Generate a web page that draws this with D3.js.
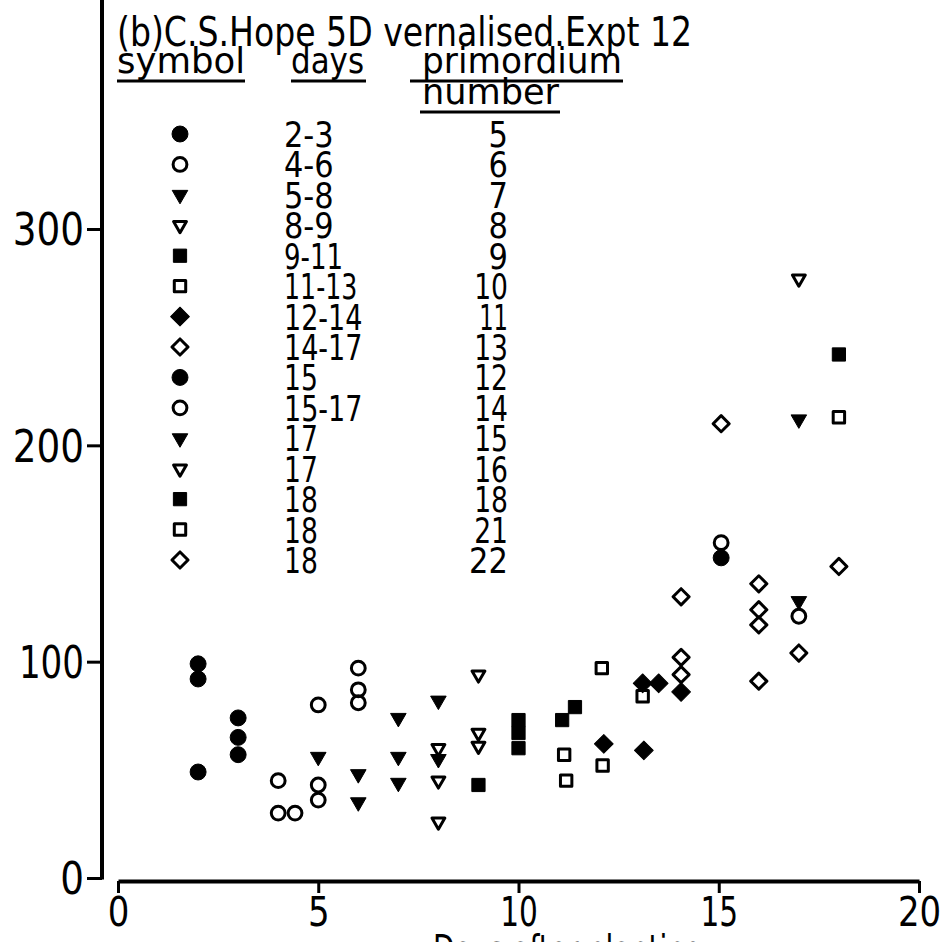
<!DOCTYPE html>
<html>
<head>
<meta charset="utf-8">
<script src="https://cdn.jsdelivr.net/npm/d3@7"></script>
<style>
  body { margin: 0; background: #fff; }
  svg { display: block; }
  text { font-family: "DejaVu Sans Condensed", "Liberation Sans Narrow", sans-serif; fill: #000; }
</style>
</head>
<body>
<svg width="945" height="942"></svg>
<script>
// Legend table: symbol, days, primordium number
const primordium = [5, 6, 7, 8, 9, 10, 11, 13, 12, 14, 15, 16, 18, 21, 22];
const dayRanges = ["2-3", "4-6", "5-8", "8-9", "9-11", "11-13", "12-14", "14-17", "15", "15-17", "17", "17", "18", "18", "18"];
const symbolKeys = ["circleF", "circleO", "triF", "triO", "squareF", "squareO", "diamondF", "diamondO",
                    "circleF", "circleO", "triF", "triO", "squareF", "squareO", "diamondO"];

// Points per primordium number: [days after planting, value]
const p5  = [[2, 99], [2, 92], [2, 49], [3, 74], [3, 65], [3, 57]];
const p6  = [[4, 45], [4, 30], [4.42, 30], [5, 80], [5, 43], [5, 36], [6, 97], [6, 87], [6, 81]];
const p7  = [[5, 56], [6, 48], [6, 35], [7, 74], [7, 56], [7, 44], [8, 82], [8, 55]];
const p8  = [[8, 60], [8, 45], [8, 26], [9, 94], [9, 67], [9, 61]];
const p9  = [[9, 43], [10, 73], [10, 67], [10, 60], [11.09, 73], [11.41, 79]];
const p10 = [[11.14, 57], [11.19, 45], [12.08, 97], [12.1, 52], [13.1, 84]];
const p11 = [[12.13, 62], [13.1, 90], [13.5, 90], [13.13, 59], [14.06, 86]];
const p13 = [[14.06, 130], [14.06, 102], [14.06, 94], [15.06, 210], [16, 136], [16, 124], [16, 117], [16, 91], [17, 104]];
const p12 = [[15.06, 148]];
const p14 = [[15.06, 155], [17, 121]];
const p15 = [[17, 212], [17, 128]];
const p16 = [[17, 277]];
const p18 = [[18, 242]];
const p21 = [[18, 213]];
const p22 = [[18, 144]];

const seriesPoints = [p5, p6, p7, p8, p9, p10, p11, p13, p12, p14, p15, p16, p18, p21, p22];

const xTicks = [0, 5, 10, 15, 20];
const yTicks = [0, 100, 200, 300];

const svg = d3.select("svg");

// scales
const x = d3.scaleLinear().domain([0, 20]).range([118, 919]);
const y = d3.scaleLinear().domain([0, 300]).range([878, 229]);

// the lettering in the figure has a narrower "1"; squeeze numerals a little
function numWidth(str, fs) {
  let w = 0;
  for (const c of String(str)) w += c === "1" ? 0.4 * fs : c === "-" ? 0.3 * fs : 0.54 * fs;
  return w;
}

// symbol definitions
const shapes = {
  circleF:  { type: d3.symbolCircle, size: 200, filled: true,  rot: 0 },
  circleO:  { type: d3.symbolCircle, size: 150, filled: false, rot: 0 },
  triF:     { type: d3.symbolTriangle, size: 105, filled: true,  rot: 180 },
  triO:     { type: d3.symbolTriangle, size: 72,  filled: false, rot: 180 },
  squareF:  { type: d3.symbolSquare, size: 175, filled: true,  rot: 0 },
  squareO:  { type: d3.symbolSquare, size: 130, filled: false, rot: 0 },
  diamondF: { type: d3.symbolSquare, size: 175, filled: true,  rot: 45 },
  diamondO: { type: d3.symbolSquare, size: 130, filled: false, rot: 45 }
};

function drawMark(sel, key) {
  const s = shapes[key];
  sel.attr("d", d3.symbol().type(s.type).size(s.size)())
    .attr("fill", s.filled ? "#000" : "none")
    .attr("stroke", "#000")
    .attr("stroke-width", s.filled ? 1 : 3)
    .attr("stroke-linejoin", "round");
}

// y axis
const yAxisG = svg.append("g")
  .attr("transform", "translate(102,0)")
  .call(d3.axisLeft(y).tickValues(yTicks).tickSize(15).tickPadding(3).tickSizeOuter(0));
yAxisG.select(".domain").remove();
yAxisG.selectAll(".tick line").attr("stroke", "#000").attr("stroke-width", 3);
yAxisG.selectAll(".tick text")
  .attr("font-size", 44)
  .attr("dy", "0.36em")
  .attr("textLength", d => numWidth(d, 44))
  .attr("lengthAdjust", "spacingAndGlyphs");
yAxisG.append("line")
  .attr("x1", 0).attr("x2", 0)
  .attr("y1", y(0) + 1.5).attr("y2", 0)
  .attr("stroke", "#000").attr("stroke-width", 4);

// x axis
const xAxisG = svg.append("g")
  .attr("transform", "translate(0,881)")
  .call(d3.axisBottom(x).tickValues(xTicks).tickSize(12).tickPadding(2).tickSizeOuter(0));
xAxisG.select(".domain").attr("stroke", "#000").attr("stroke-width", 4);
xAxisG.selectAll(".tick line").attr("stroke", "#000").attr("stroke-width", 3);
xAxisG.selectAll(".tick text")
  .attr("font-size", 40)
  .attr("dy", "0.78em")
  .attr("textLength", d => numWidth(d, 40))
  .attr("lengthAdjust", "spacingAndGlyphs");

// axis title, cut by the bottom edge as in the scan
svg.append("text")
  .attr("x", 568).attr("y", 964)
  .attr("text-anchor", "middle")
  .attr("font-size", 40)
  .attr("textLength", 270).attr("lengthAdjust", "spacingAndGlyphs")
  .text("Days after planting");

// data points: open symbols first, filled ones on top
const order = d3.range(seriesPoints.length)
  .sort((a, b) => shapes[symbolKeys[a]].filled - shapes[symbolKeys[b]].filled);
const pts = svg.append("g");
order.forEach(i => {
  const key = symbolKeys[i];
  pts.selectAll(null)
    .data(seriesPoints[i])
    .enter().append("path")
    .attr("transform", d => `translate(${x(d[0])},${y(d[1])}) rotate(${shapes[key].rot})`)
    .call(drawMark, key);
});

// title and legend table
svg.append("text")
  .attr("x", 117).attr("y", 46)
  .attr("font-size", 40)
  .attr("textLength", 575).attr("lengthAdjust", "spacingAndGlyphs")
  .text("(b)C.S.Hope 5D vernalised.Expt 12");

const headers = [
  { t: "symbol", x: 117, y: 73, w: 128, ux: 117, uw: 128 },
  { t: "days", x: 291, y: 73, w: 73, ux: 291, uw: 75 },
  { t: "primordium", x: 422, y: 73, w: 200, ux: 410, uw: 213 },
  { t: "number", x: 422, y: 104, w: 137, ux: 420, uw: 140 }
];
headers.forEach(h => {
  svg.append("text")
    .attr("x", h.x).attr("y", h.y)
    .attr("font-size", 36)
    .attr("textLength", h.w).attr("lengthAdjust", "spacingAndGlyphs")
    .text(h.t);
  svg.append("line")
    .attr("x1", h.ux).attr("x2", h.ux + h.uw)
    .attr("y1", h.y + 8).attr("y2", h.y + 8)
    .attr("stroke", "#000").attr("stroke-width", 3);
});

const rowY = d3.scaleLinear().domain([0, primordium.length - 1]).range([134, 560]);
const legend = svg.append("g");
primordium.forEach((p, i) => {
  const key = symbolKeys[i];
  legend.append("path")
    .attr("transform", `translate(180,${rowY(i)}) rotate(${shapes[key].rot})`)
    .call(drawMark, key);
  legend.append("text")
    .attr("x", 284).attr("y", rowY(i) + 13)
    .attr("font-size", 36)
    .attr("textLength", numWidth(dayRanges[i], 36))
    .attr("lengthAdjust", "spacingAndGlyphs")
    .text(dayRanges[i]);
  legend.append("text")
    .attr("x", 508).attr("y", rowY(i) + 13)
    .attr("text-anchor", "end")
    .attr("font-size", 36)
    .attr("textLength", numWidth(p, 36))
    .attr("lengthAdjust", "spacingAndGlyphs")
    .text(p);
});
</script>
</body>
</html>
